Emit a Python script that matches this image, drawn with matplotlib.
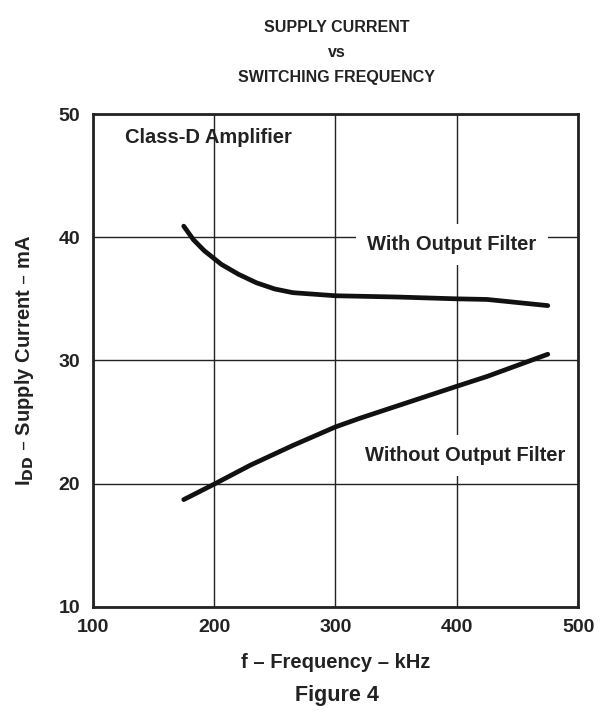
import matplotlib
matplotlib.use("Agg")
import matplotlib.pyplot as plt

plt.rcParams['font.family'] = ['Liberation Sans', 'DejaVu Sans']
plt.rcParams['font.weight'] = 'bold'

# data
freq_with = [175, 183, 192, 206, 220, 235, 250, 265, 300, 350, 400, 425, 450, 475]
idd_with = [40.9, 39.8, 38.9, 37.8, 37.0, 36.3, 35.8, 35.5, 35.25, 35.15, 35.0, 34.95, 34.7, 34.45]
freq_without = [175, 200, 230, 265, 300, 320, 360, 400, 425, 450, 475]
idd_without = [18.7, 19.95, 21.5, 23.1, 24.6, 25.3, 26.6, 27.9, 28.7, 29.6, 30.5]

x_ticks = [100, 200, 300, 400, 500]
y_ticks = [10, 20, 30, 40, 50]

fig = plt.figure(figsize=(6.06, 7.13), dpi=100)
ax = fig.add_axes([0.153, 0.149, 0.801, 0.691])

ax.plot(freq_with, idd_with, color='#111111', lw=3.4, solid_capstyle='round',
        solid_joinstyle='round', zorder=3)
ax.plot(freq_without, idd_without, color='#111111', lw=3.4, solid_capstyle='round',
        solid_joinstyle='round', zorder=3)

ax.set_xlim(100, 500)
ax.set_ylim(10, 50)
ax.set_xticks(x_ticks)
ax.set_yticks(y_ticks)
ax.tick_params(length=0, labelsize=14)
ax.tick_params(axis='x', pad=9)
ax.tick_params(axis='y', pad=9)
for lbl in ax.get_xticklabels() + ax.get_yticklabels():
    lbl.set_fontweight('bold')
    lbl.set_color('#222222')
ax.grid(True, color='#222222', lw=1.0)
ax.set_axisbelow(True)
for s in ax.spines.values():
    s.set_linewidth(2.0)
    s.set_color('#222222')

ax.text(126.5, 48.1, 'Class-D Amplifier', fontsize=14.5, fontweight='bold', va='center',
        ha='left', color='#222222')
ax.text(396, 39.4, 'With Output Filter', fontsize=14.5, fontweight='bold', va='center',
        ha='center', color='#222222',
        bbox=dict(facecolor='white', edgecolor='none', pad=8), zorder=2)
ax.text(407, 22.25, 'Without Output Filter', fontsize=14.5, fontweight='bold', va='center',
        ha='center', color='#222222',
        bbox=dict(facecolor='white', edgecolor='none', pad=8), zorder=2)

ax.set_xlabel('f – Frequency – kHz', fontsize=14.5, fontweight='bold', labelpad=12,
              color='#222222')
ax.set_ylabel(r'I$_{\mathbf{DD}}$ – Supply Current – mA', fontsize=14.5, fontweight='bold',
              labelpad=16, color='#222222')

fig.text(0.556, 0.961, 'SUPPLY CURRENT', ha='center', va='center', fontsize=11.5,
         fontweight='bold', color='#222222')
fig.text(0.556, 0.926, 'vs', ha='center', va='center', fontsize=11.5,
         fontweight='bold', color='#222222')
fig.text(0.556, 0.891, 'SWITCHING FREQUENCY', ha='center', va='center', fontsize=11.5,
         fontweight='bold', color='#222222')
fig.text(0.556, 0.025, 'Figure 4', ha='center', va='center', fontsize=15.5,
         fontweight='bold', color='#222222')

fig.savefig('out.png', dpi=100)
